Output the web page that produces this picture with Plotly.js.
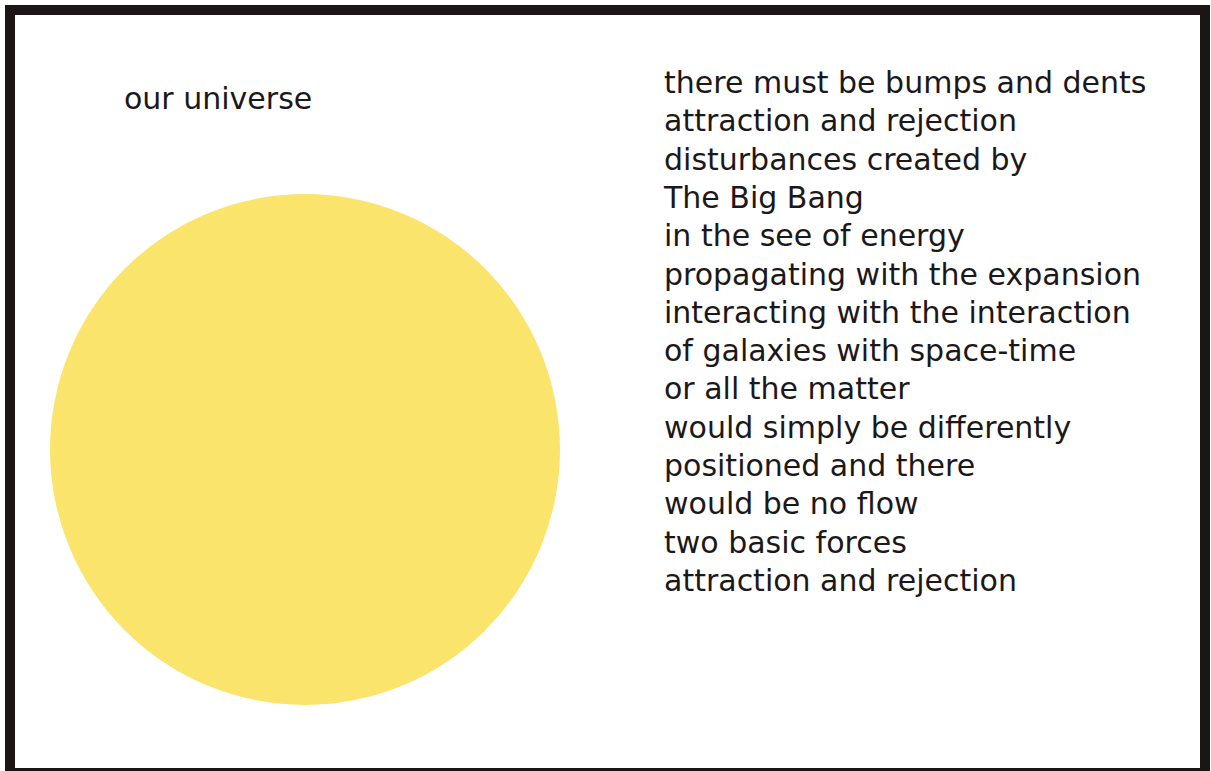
<!DOCTYPE html>
<html>
<head>
<meta charset="utf-8">
<script src="https://cdn.plot.ly/plotly-3.0.1.min.js"></script>
<style>html,body{margin:0;padding:0;background:#fff;}#chart{width:1211px;height:771px;}</style>
</head>
<body>
<div id="chart"></div>
<script>
// Diagram content
const universeLabel = ["our universe"];
const textLines = [
  "there must be bumps and dents",
  "attraction and rejection",
  "disturbances created by",
  "The Big Bang",
  "in the see of energy",
  "propagating with the expansion",
  "interacting with the interaction",
  "of galaxies with space-time",
  "or all the matter",
  "would simply be differently",
  "positioned and there",
  "would be no flow",
  "two basic forces",
  "attraction and rejection"
];

const W = 1211, H = 771;
const FONT = {family: "DejaVu Sans, Liberation Sans, Arial, sans-serif", size: 30, color: "#1c1819"};

// layout of the text block
const textX = 664, textTop = 85.5, lineStep = 38.3;

const traces = [
  {
    type: "scatter", mode: "text",
    x: textLines.map(() => textX),
    y: textLines.map((_, i) => textTop + i * lineStep),
    text: textLines,
    textposition: "middle right",
    textfont: FONT,
    hoverinfo: "skip", showlegend: false
  },
  {
    type: "scatter", mode: "text",
    x: [124], y: [101.5],
    text: universeLabel,
    textposition: "middle right",
    textfont: FONT,
    hoverinfo: "skip", showlegend: false
  }
];

const layout = {
  width: W, height: H,
  margin: {l: 0, r: 0, t: 0, b: 0, pad: 0},
  paper_bgcolor: "#ffffff", plot_bgcolor: "#ffffff",
  xaxis: {range: [0, W], visible: false, fixedrange: true},
  yaxis: {range: [H, 0], visible: false, fixedrange: true},
  showlegend: false,
  shapes: [
    {type: "circle", xref: "x", yref: "y", x0: 50, x1: 560, y0: 194, y1: 705,
     fillcolor: "#fbe46c", line: {width: 0}, layer: "below"},
    {type: "rect", xref: "x", yref: "y", x0: 10, x1: 1205, y0: 10, y1: 773,
     fillcolor: "rgba(0,0,0,0)", line: {color: "#1b1516", width: 10}, layer: "above"}
  ]
};

Plotly.newPlot("chart", traces, layout, {staticPlot: true, displayModeBar: false});
</script>
</body>
</html>
